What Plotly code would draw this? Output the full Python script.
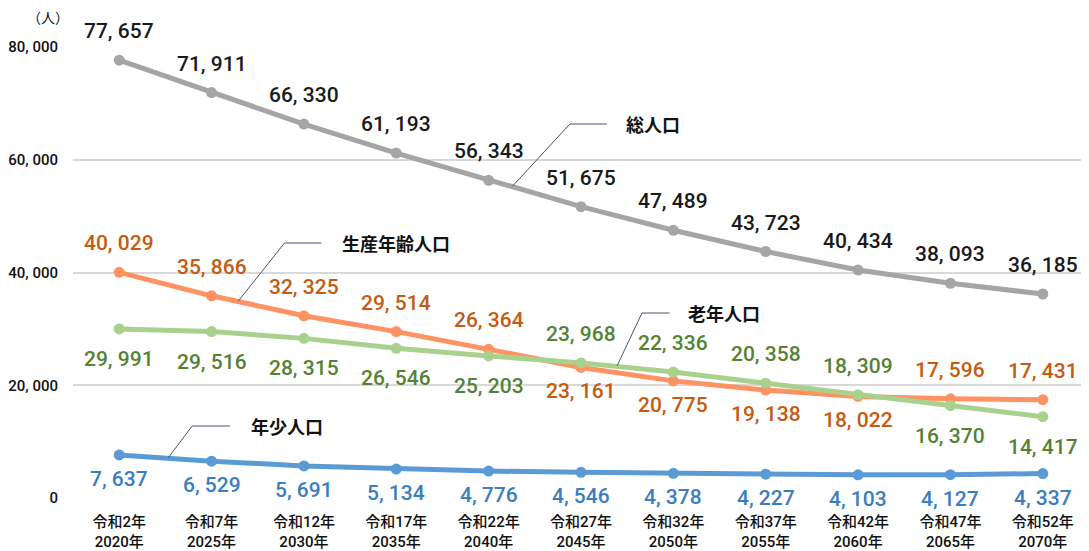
import plotly.graph_objects as go

# categories
years = ["令和2年<br>2020年", "令和7年<br>2025年", "令和12年<br>2030年", "令和17年<br>2035年",
         "令和22年<br>2040年", "令和27年<br>2045年", "令和32年<br>2050年", "令和37年<br>2055年",
         "令和42年<br>2060年", "令和47年<br>2065年", "令和52年<br>2070年"]

# series values
total = [77657, 71911, 66330, 61193, 56343, 51675, 47489, 43723, 40434, 38093, 36185]
working = [40029, 35866, 32325, 29514, 26364, 23161, 20775, 19138, 18022, 17596, 17431]
elderly = [29991, 29516, 28315, 26546, 25203, 23968, 22336, 20358, 18309, 16370, 14417]
young = [7637, 6529, 5691, 5134, 4776, 4546, 4378, 4227, 4103, 4127, 4337]

# label side per point (1 = above, -1 = below)
total_side = [1] * 11
working_side = [1, 1, 1, 1, 1, -1, -1, -1, -1, 1, 1]
elderly_side = [-1, -1, -1, -1, -1, 1, 1, 1, 1, -1, -1]
young_side = [-1] * 11

y_tickvals = [0, 20000, 40000, 60000, 80000]
y_ticktext = ["0", "20, 000", "40, 000", "60, 000", "80, 000"]

NUM_FONT = "Roboto, Noto Sans CJK JP"
JP_FONT = "Noto Sans CJK JP"

series = [
    ("総人口", total, total_side, "#A5A5A5", "#1A1A1A"),
    ("生産年齢人口", working, working_side, "#FF9262", "#C55A11"),
    ("老年人口", elderly, elderly_side, "#A9D18E", "#548235"),
    ("年少人口", young, young_side, "#5B9BD5", "#3A7DC0"),
]


def fmt(v):
    return f"{v:,}".replace(",", ", ")


fig = go.Figure()
annotations = []
for name, vals, sides, color, tcolor in series:
    fig.add_trace(go.Scatter(
        x=years, y=vals, mode="lines+markers", name=name,
        line=dict(color=color, width=5),
        marker=dict(color=color, size=11),
        showlegend=False, cliponaxis=False,
    ))
    for i, (v, s) in enumerate(zip(vals, sides)):
        shift = 29 if s > 0 else -(24 if tcolor in ("#C55A11", "#3A7DC0") else 30)
        annotations.append(dict(
            x=i, y=v, xref="x", yref="y", text=fmt(v), showarrow=False,
            yshift=shift, font=dict(family=NUM_FONT, size=21, color=tcolor, weight=500),
        ))

# callout lines (x in category index units, y in data units)
callouts = [
    ("総人口", [(4.26, 55340), (4.88, 66340), (5.28, 66340)], 5.78),
    ("生産年齢人口", [(1.29, 34940), (1.79, 45230), (2.19, 45230)], 3.0),
    ("老年人口", [(5.39, 23410), (5.66, 32810), (5.96, 32810)], 6.55),
    ("年少人口", [(0.53, 7100), (0.79, 12770), (1.2, 12770)], 1.82),
]
shapes = []
for text, pts, tx in callouts:
    path = "M " + " L ".join(f"{px},{py}" for px, py in pts)
    shapes.append(dict(type="path", path=path, xref="x", yref="y",
                       line=dict(color="#44546A", width=1)))
    annotations.append(dict(x=tx, y=pts[-1][1], xref="x", yref="y", text=text,
                            showarrow=False,
                            font=dict(family=JP_FONT, size=18, color="#111111", weight="bold")))

annotations.append(dict(x=-0.025, y=1.066, xref="paper", yref="paper", text="（人）",
                        showarrow=False, xanchor="center", yanchor="middle",
                        font=dict(family=JP_FONT, size=14, color="#111111")))

# page body has an 8px margin, so the figure is sized to end at the window edge
fig.update_layout(
    width=1081, height=543,
    margin=dict(l=65, r=0, t=39, b=53),
    paper_bgcolor="white", plot_bgcolor="white",
    annotations=annotations, shapes=shapes,
    font=dict(family=JP_FONT, color="#111111"),
)
fig.update_xaxes(
    type="category", categoryorder="array", categoryarray=years,
    range=[-0.5, 10.5], showgrid=False, showline=False, zeroline=False,
    tickfont=dict(family=NUM_FONT, size=15, color="#111111", weight=500),
    ticklabelstandoff=13,
)
fig.update_yaxes(
    range=[0, 80000], tickvals=y_tickvals, ticktext=y_ticktext,
    showgrid=True, gridcolor="#D9D9D9", gridwidth=1.5, zeroline=False, showline=False,
    tickfont=dict(family=NUM_FONT, size=15, color="#111111", weight=500),
    ticklabelstandoff=14,
)

fig.write_html("out.html")
